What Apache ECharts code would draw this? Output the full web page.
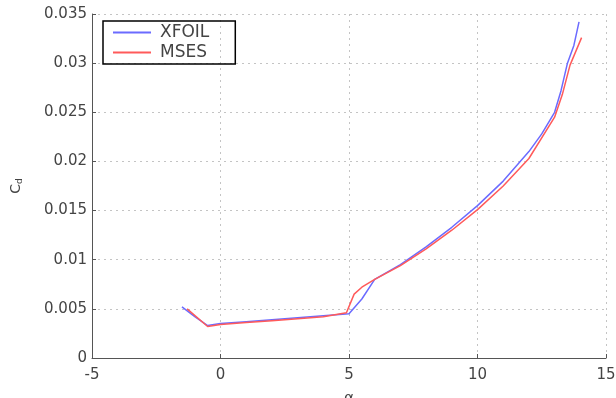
<!DOCTYPE html>
<html><head><meta charset="utf-8">
<script src="https://cdn.jsdelivr.net/npm/echarts@6/dist/echarts.min.js"></script>
<style>html,body{margin:0;padding:0;background:#fff}#c{width:616px;height:398px}</style>
</head><body><div id="c"></div>
<script>
const xfoilAlpha = [-1.5, -1, -0.5, 0, 1, 2, 3, 4, 5, 5.5, 6, 7, 8, 9, 10, 11, 12, 12.5, 13, 13.25, 13.5, 13.75, 13.95];
const xfoilCd    = [0.0052, 0.0042, 0.0033, 0.0035, 0.0037, 0.0039, 0.0041, 0.0043, 0.0045, 0.0060, 0.0080, 0.0095, 0.0113, 0.0133, 0.0155, 0.0180, 0.0210, 0.0228, 0.0250, 0.0272, 0.0300, 0.0318, 0.0342];
const msesAlpha  = [-1.3, -0.5, 0, 1, 2, 3, 4, 4.9, 5.2, 5.5, 6, 7, 8, 9, 10, 11, 12, 13, 13.3, 13.6, 14.05];
const msesCd     = [0.0050, 0.0032, 0.0034, 0.0036, 0.0038, 0.0040, 0.0042, 0.0046, 0.0065, 0.0072, 0.0080, 0.0094, 0.0111, 0.0130, 0.0151, 0.0175, 0.0203, 0.0245, 0.0268, 0.0298, 0.0326];
const xTicks = [-5, 0, 5, 10, 15];
const yTicks = [0, 0.005, 0.01, 0.015, 0.02, 0.025, 0.03, 0.035];

const chart = echarts.init(document.getElementById('c'));
const txt = '#444';
const ff = 'DejaVu Sans';
chart.setOption({
  animation: false,
  grid: {left: 92, right: 10, top: 14, bottom: 40, outerBoundsMode: 'none', containLabel: false},
  legend: {
    orient: 'vertical', left: 103, top: 21,
    borderColor: '#000', borderWidth: 1.5, padding: [3, 26, 3, 10],
    itemWidth: 38, itemHeight: 2, itemGap: 3, icon: 'rect',
    textStyle: {color: txt, fontSize: 17, fontFamily: ff, padding: [0, 0, 0, 4]},
    data: ['XFOIL', 'MSES']
  },
  xAxis: {
    type: 'value', min: xTicks[0], max: xTicks[xTicks.length-1], interval: 5,
    name: 'α', nameLocation: 'middle', nameGap: 34,
    nameTextStyle: {color: txt, fontSize: 15, fontFamily: ff},
    axisLine: {show: true, onZero: false, lineStyle: {color: '#555', width: 1}},
    axisTick: {show: true, inside: true, length: 4, lineStyle: {color: '#555'}},
    axisLabel: {color: txt, fontSize: 15, fontFamily: ff, margin: 10},
    splitLine: {show: true, lineStyle: {color: '#c4c4c4', type: [2, 4], width: 1}}
  },
  yAxis: {
    type: 'value', min: yTicks[0], max: yTicks[yTicks.length-1], interval: 0.005,
    name: '{a|C}{s|d}', nameLocation: 'middle', nameGap: 68, nameRotate: 90,
    nameTextStyle: {color: txt, fontFamily: ff, rich: {a: {fontSize: 14, color: txt, fontFamily: ff}, s: {fontSize: 9, color: txt, fontFamily: ff, verticalAlign: 'bottom', padding: [7, 0, 0, 0]}}},
    axisLine: {show: true, onZero: false, lineStyle: {color: '#555', width: 1}},
    axisTick: {show: true, inside: true, length: 4, lineStyle: {color: '#555'}},
    axisLabel: {color: txt, fontSize: 15, fontFamily: ff, margin: 5,
      formatter: v => (Math.round(v * 1000) / 1000).toString()},
    splitLine: {show: true, lineStyle: {color: '#c4c4c4', type: [2, 4], width: 1}}
  },
  series: [
    {name: 'XFOIL', type: 'line', symbol: 'none', color: '#6b6bff',
     lineStyle: {width: 1.5}, data: xfoilAlpha.map((a, i) => [a, xfoilCd[i]])},
    {name: 'MSES', type: 'line', symbol: 'none', color: '#ff5a5a',
     lineStyle: {width: 1.5}, data: msesAlpha.map((a, i) => [a, msesCd[i]])}
  ]
});
</script></body></html>
